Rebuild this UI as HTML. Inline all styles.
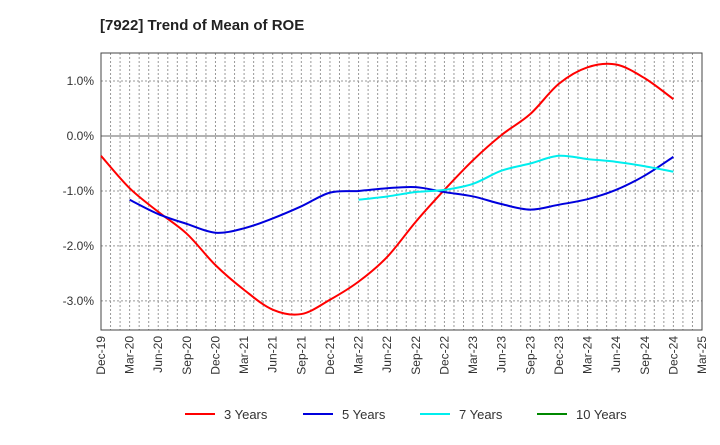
<!DOCTYPE html>
<html><head><meta charset="utf-8"><style>
body{margin:0;background:#fff;font-family:"Liberation Sans",Arial,sans-serif}
</style></head><body>
<svg id="chart" width="720" height="440" xmlns="http://www.w3.org/2000/svg" font-family="Liberation Sans, Arial, sans-serif">
<text x="100" y="30" font-size="15" font-weight="bold" fill="#222">[7922]  Trend of Mean of ROE</text>
<g id="grid"></g><g id="axes"></g><g id="series"></g><g id="legend"></g>
</svg>
<script>
const xLabels=["Dec-19","Mar-20","Jun-20","Sep-20","Dec-20","Mar-21","Jun-21","Sep-21","Dec-21","Mar-22","Jun-22","Sep-22","Dec-22","Mar-23","Jun-23","Sep-23","Dec-23","Mar-24","Jun-24","Sep-24","Dec-24","Mar-25"];
const yTicks=[1,0,-1,-2,-3];
const yTickLabels=["1.0%","0.0%","-1.0%","-2.0%","-3.0%"];
const seriesNames=["3 Years","5 Years","7 Years","10 Years"];
const seriesColors=["#ff0000","#0000dd","#00eeee","#008800"];
const s3=[-0.36,-0.95,-1.38,-1.78,-2.35,-2.8,-3.16,-3.24,-2.98,-2.65,-2.2,-1.56,-0.98,-0.44,0.02,0.4,0.95,1.25,1.3,1.05,0.67];
const s5=[null,-1.16,-1.42,-1.6,-1.76,-1.68,-1.5,-1.28,-1.03,-1.0,-0.95,-0.93,-1.02,-1.1,-1.24,-1.34,-1.25,-1.15,-0.98,-0.72,-0.38];
const s7=[null,null,null,null,null,null,null,null,null,-1.16,-1.1,-1.02,-0.98,-0.87,-0.63,-0.5,-0.36,-0.42,-0.47,-0.55,-0.65];
const s10=[];
const L=101,R=702,T=53,B=330,yMax=1.51,yMin=-3.53;
const NS="http://www.w3.org/2000/svg";
const xs=i=>L+i*(R-L)/21;
const ys=v=>T+(yMax-v)/(yMax-yMin)*(B-T);
function mk(tag,attrs,parent){const e=document.createElementNS(NS,tag);for(const k in attrs)e.setAttribute(k,attrs[k]);parent.appendChild(e);return e;}
const grid=document.getElementById('grid'),axes=document.getElementById('axes'),ser=document.getElementById('series'),leg=document.getElementById('legend');
for(let m=1;m<63;m++){const x=L+m*(R-L)/63;const g=mk('line',{x1:x,x2:x,y1:T,y2:B,stroke:'#999','stroke-dasharray':'2,2','stroke-width':1},grid);

}
yTicks.forEach((v,i)=>{const y=ys(v);const g=mk('line',{x1:L,x2:R,y1:y,y2:y,stroke:v===0?'#666':'#999','stroke-dasharray':v===0?'':'2,2','stroke-width':1},grid);


const t=mk('text',{x:L-7,y:y+4,'text-anchor':'end','font-size':12,fill:'#333'},axes);t.textContent=yTickLabels[i];

});
const frame=mk('rect',{x:L,y:T,width:R-L,height:B-T,fill:'none',stroke:'#444','stroke-width':1},axes);


xLabels.forEach((lb,i)=>{const x=xs(i);const t=mk('text',{transform:`translate(${x+4},${B+6}) rotate(-90)`,'text-anchor':'end','font-size':12,fill:'#333'},axes);t.textContent=lb;

});
function pathFor(arr){const p=[];arr.forEach((v,i)=>{if(v!=null)p.push([xs(i),ys(v)]);});if(p.length<2)return '';
let d=`M${p[0][0]},${p[0][1]}`;for(let i=0;i<p.length-1;i++){const p0=p[i-1]||p[i],p1=p[i],p2=p[i+1],p3=p[i+2]||p2;
d+=` C${p1[0]+(p2[0]-p0[0])/6},${p1[1]+(p2[1]-p0[1])/6} ${p2[0]-(p3[0]-p1[0])/6},${p2[1]-(p3[1]-p1[1])/6} ${p2[0]},${p2[1]}`;}return d;}
[s3,s5,s7,s10].forEach((arr,k)=>{const d=pathFor(arr);if(!d)return;const p=mk('path',{d,fill:'none',stroke:seriesColors[k],'stroke-width':2,'stroke-linejoin':'round'},ser);

});
const lx=[185,303,420,537];
seriesNames.forEach((n,k)=>{const g=mk('g',{},leg);


mk('line',{x1:lx[k],x2:lx[k]+30,y1:414,y2:414,stroke:seriesColors[k],'stroke-width':2},g);
const t=mk('text',{x:lx[k]+39,y:419,'font-size':13,fill:'#333'},g);t.textContent=n;});
</script>
</body></html>
